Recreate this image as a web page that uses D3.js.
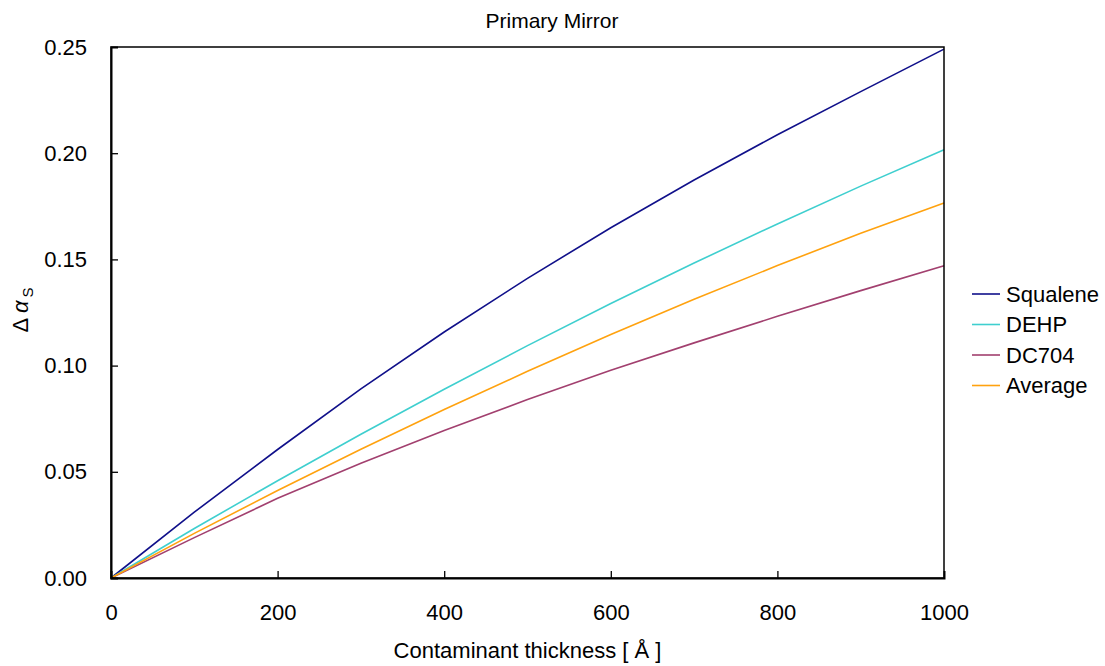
<!DOCTYPE html>
<html>
<head>
<meta charset="utf-8">
<script src="https://cdn.jsdelivr.net/npm/d3@7"></script>
<style>
    body { margin: 0; background: #fff; }
    text { font-family: "Liberation Sans", Arial, sans-serif; fill: #000; }
</style>
</head>
<body>
<div id="chart"></div>
<script>
// data
const thickness = [0, 100, 200, 300, 400, 500, 600, 700, 800, 900, 1000];
const squalene = [0, 0.031, 0.0605, 0.089, 0.1158, 0.1411, 0.1649, 0.1874, 0.2087, 0.229, 0.249];
const dehp = [0, 0.0233, 0.0458, 0.0677, 0.0889, 0.1094, 0.1292, 0.1483, 0.1667, 0.1845, 0.2016];
const dc704 = [0, 0.019, 0.0375, 0.054, 0.0695, 0.084, 0.0978, 0.1107, 0.1232, 0.1353, 0.147];
const average = [0, 0.021, 0.0412, 0.0606, 0.0793, 0.0973, 0.1146, 0.1312, 0.1471, 0.1623, 0.1765];
const seriesNames = ["Squalene", "DEHP", "DC704", "Average"];
const xTicks = [0, 200, 400, 600, 800, 1000];
const yTicks = [0, 0.05, 0.10, 0.15, 0.20, 0.25];

const width = 1105;
const height = 666;
const margin = {top: 47, right: 161, bottom: 88, left: 111};
const fontSize = 22;
const tickSize = 7;

const colors = d3.scaleOrdinal()
    .domain(seriesNames)
    .range(["#10108a", "#3fcfcf", "#a2406f", "#ffa20f"]);

const series = [squalene, dehp, dc704, average].map((values, i) => ({
    name: seriesNames[i],
    values: values.map((v, j) => ({x: thickness[j], y: v}))
}));

const svg = d3.select("#chart").append("svg")
    .attr("width", width)
    .attr("height", height);

const x = d3.scaleLinear()
    .domain([0, 1000])
    .range([margin.left, width - margin.right]);

const y = d3.scaleLinear()
    .domain([0, 0.25])
    .range([height - margin.bottom, margin.top]);

// lines
const line = d3.line()
    .x(d => x(d.x))
    .y(d => y(d.y));

svg.append("g")
    .selectAll("path")
    .data(series)
    .join("path")
    .attr("d", d => line(d.values))
    .attr("fill", "none")
    .attr("stroke", d => colors(d.name))
    .attr("stroke-width", 1.6);

// frame
svg.append("rect")
    .attr("x", x(0))
    .attr("y", y(0.25))
    .attr("width", x(1000) - x(0))
    .attr("height", y(0) - y(0.25))
    .attr("fill", "none")
    .attr("stroke", "#000")
    .attr("stroke-width", 1.5);

// axes, ticks pointing inward
const xAxis = svg.append("g")
    .attr("transform", `translate(0 ${y(0)})`)
    .call(d3.axisBottom(x).tickValues(xTicks).tickSize(-tickSize).tickPadding(tickSize + 28).tickFormat(d3.format("d")));

const yAxis = svg.append("g")
    .attr("transform", `translate(${x(0)} 0)`)
    .call(d3.axisLeft(y).tickValues(yTicks).tickSize(-tickSize).tickPadding(tickSize + 17).tickFormat(d3.format(".2f")));

[xAxis, yAxis].forEach(axis => {
    axis.select(".domain").attr("stroke", "#000").attr("stroke-width", 2);
    axis.selectAll(".tick line").attr("stroke", "#000").attr("stroke-width", 1.3);
    axis.selectAll(".tick text")
        .style("font-family", "'Liberation Sans', Arial, sans-serif")
        .style("font-size", fontSize + "px")
        .attr("fill", "#000");
});
xAxis.selectAll(".tick text").attr("dy", "0.32em");
xAxis.selectAll(".tick").filter(d => d === 0 || d === 1000).select("line").remove();
yAxis.selectAll(".tick").filter(d => d === 0 || d === 0.25).select("line").remove();

// title
svg.append("text")
    .attr("x", 552)
    .attr("y", 28)
    .attr("text-anchor", "middle")
    .style("font-size", "21px")
    .text("Primary Mirror");

// axis labels
svg.append("text")
    .attr("x", (x(0) + x(1000)) / 2)
    .attr("y", 658)
    .attr("text-anchor", "middle")
    .style("font-size", fontSize + "px")
    .text("Contaminant thickness [ Å ]");

const yLabel = svg.append("text")
    .attr("transform", `translate(28 310) rotate(-90)`)
    .attr("text-anchor", "middle")
    .style("font-size", fontSize + "px");
yLabel.append("tspan").text("Δ ");
yLabel.append("tspan").style("font-style", "italic").text("α");
yLabel.append("tspan")
    .attr("dy", 5)
    .attr("dx", 3)
    .style("font-size", "15px")
    .text("S");

// legend
const legend = svg.append("g")
    .attr("transform", "translate(972 294)");

const rows = legend.selectAll("g")
    .data(seriesNames)
    .join("g")
    .attr("transform", (d, i) => `translate(0 ${i * 30.5})`);

rows.append("line")
    .attr("x1", 0)
    .attr("x2", 28)
    .attr("stroke", d => colors(d))
    .attr("stroke-width", 1.6);

rows.append("text")
    .attr("x", 34)
    .attr("dy", "0.35em")
    .style("font-size", fontSize + "px")
    .text(d => d);
</script>
</body>
</html>
